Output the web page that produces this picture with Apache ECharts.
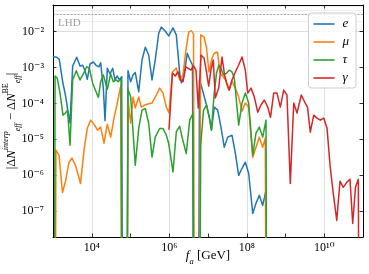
<!DOCTYPE html>
<html><head><meta charset="utf-8">
<script src="https://cdn.jsdelivr.net/npm/echarts@6/dist/echarts.min.js"></script>
<style>html,body{margin:0;padding:0;background:#fff}#c{width:369px;height:274px}</style>
</head><body><div id="c"></div>
<script>
// ---- data; 0 = exactly zero (clipped to the bottom on a log axis) ----
const seriesNames = ['e', '\u03bc', '\u03c4', '\u03b3'];
const seriesColors = ['#1f77b4', '#ff7f0e', '#2ca02c', '#d62728'];
const xLabelExponents = [4, 6, 8, 10];
const xGridValues = [1e4, 1e6, 1e8, 1e10];
const xRange = [1e3, 1e11];
const yRange = [1.9e-8, 5.5e-2];
const lhdLevel = 3.2e-2;
const lhdText = 'LHD';

const dataE = [[1.02e3,2.0e-3],[1.25e3,1.93e-3],[1.45e3,1.69e-3],[1.78e3,4.0e-4],[2.13e3,1.53e-4],[2.40e3,6.5e-5],[2.75e3,2.82e-5],[3.22e3,1.10e-3],[4.09e3,1.93e-3],[4.98e3,1.10e-3],[5.84e3,1.15e-3],[6.70e3,8.1e-4],[7.68e3,4.7e-4],[9.02e3,1.25e-3],[1.10e4,1.42e-3],[1.29e4,1.15e-3],[1.54e4,1.05e-3],[1.70e4,1.36e-3],[1.99e4,2.67e-4],[2.20e4,3.27e-5],[2.52e4,9.5e-4],[2.96e4,6.6e-4],[3.47e4,9.5e-4],[3.98e4,4.5e-4],[4.56e4,5.8e-4],[5.14e4,4.5e-4],[5.93e4,5.5e-4],[7.00e4,0],[8.61e4,8.1e-4],[1.01e5,4.0e-4],[1.16e5,6.2e-4],[1.33e5,7.2e-4],[1.63e5,2.11e-4],[1.98e5,1.62e-3],[2.41e5,3.66e-3],[2.95e5,2.23e-3],[3.59e5,4.5e-4],[4.37e5,1.69e-3],[5.35e5,9.0e-3],[6.24e5,1.33e-2],[7.64e5,1.07e-2],[9.68e5,7.6e-3],[1.25e6,1.27e-2],[1.52e6,8.1e-3],[1.86e6,7.0e-4],[2.05e6,3.7e-4],[2.40e6,5.8e-4],[2.92e6,2.5e-3],[3.43e6,1.62e-3],[3.98e6,1.17e-3],[4.90e6,0],[6.04e6,4.5e-4],[7.43e6,2.07e-4],[9.15e6,9.0e-5],[1.09e7,3.9e-5],[1.23e7,1.79e-5],[1.45e7,7.9e-5],[1.78e7,6.5e-5],[2.16e7,2.18e-5],[2.63e7,6.0e-6],[3.22e7,1.15e-5],[4.16e7,1.30e-5],[5.07e7,4.1e-6],[6.19e7,9.9e-7],[7.54e7,1.56e-6],[9.18e7,2.3e-6],[1.12e8,1.13e-6],[1.43e8,8.6e-8],[1.73e8,1.64e-7],[2.11e8,2.75e-7],[2.58e8,1.44e-7],[3.14e8,3.8e-7],[3.64e8,0]];

const dataMu = [[1.00e3,0],[1.19e3,5.0e-6],[1.43e3,3.6e-6],[1.76e3,3.3e-7],[2.10e3,6.8e-7],[2.59e3,2.3e-6],[3.09e3,3.0e-6],[3.81e3,1.89e-6],[5.13e3,5.9e-7],[6.31e3,5.0e-6],[7.68e3,2.04e-5],[9.40e3,3.42e-5],[1.14e4,2.64e-5],[1.41e4,1.79e-5],[1.70e4,2.18e-5],[2.07e4,7.8e-6],[2.52e4,2.64e-5],[3.08e4,1.15e-5],[3.75e4,3.9e-5],[4.56e4,1.02e-4],[5.58e4,3.04e-4],[7.00e4,0],[8.61e4,1.24e-4],[1.01e5,2.82e-5],[1.16e5,1.50e-4],[1.33e5,7.4e-5],[1.63e5,1.50e-4],[1.90e5,7.9e-5],[2.32e5,9.0e-5],[2.83e5,9.6e-5],[3.59e5,1.02e-4],[4.63e5,1.71e-4],[5.67e5,2.67e-4],[6.90e5,1.94e-4],[8.40e5,7.9e-5],[9.86e5,5.4e-5],[1.21e6,7.5e-4],[1.52e6,9.7e-4],[1.86e6,4.5e-4],[2.26e6,6.2e-4],[2.70e6,3.08e-3],[3.18e6,9.8e-3],[3.71e6,1.05e-2],[4.23e6,8.6e-3],[4.90e6,0],[6.49e6,8.1e-3],[7.89e6,7.1e-3],[9.15e6,3.5e-3],[1.06e7,7.5e-4],[1.27e7,1.84e-3],[1.47e7,2.54e-3],[1.76e7,2.71e-3],[2.04e7,7.0e-4],[2.39e7,5.8e-4],[2.83e7,4.5e-4],[3.42e7,2.35e-4],[4.16e7,4.2e-4],[5.07e7,2.67e-4],[6.19e7,1.50e-4],[7.54e7,6.1e-5],[9.18e7,1.02e-4],[1.12e8,7.9e-5],[1.43e8,3.16e-6],[1.73e8,6.0e-6],[2.11e8,1.15e-5],[2.58e8,6.0e-6],[3.01e8,1.07e-5],[3.64e8,0]];

const dataTau = [[1.00e3,0],[1.13e3,5.8e-4],[1.29e3,5.0e-4],[1.52e3,1.94e-4],[1.81e3,4.7e-5],[2.10e3,5.4e-5],[2.37e3,6.5e-5],[2.75e3,6.8e-6],[3.22e3,4.5e-4],[3.99e3,8.1e-4],[4.98e3,4.5e-4],[6.05e3,6.6e-4],[7.41e3,1.05e-3],[8.65e3,9.5e-4],[1.06e4,3.6e-4],[1.29e4,2.11e-4],[1.48e4,1.47e-4],[1.70e4,4.0e-4],[1.99e4,6.2e-4],[2.52e4,2.46e-4],[3.08e4,6.6e-4],[3.60e4,4.0e-4],[4.23e4,4.5e-4],[4.84e4,4.0e-4],[5.69e4,5.1e-4],[7.00e4,0],[8.61e4,2.46e-4],[1.01e5,1.53e-4],[1.33e5,1.89e-6],[1.63e5,2.0e-5],[1.98e5,6.5e-5],[2.41e5,7.2e-5],[2.95e5,2.76e-5],[3.59e5,3.2e-6],[4.37e5,1.17e-5],[5.67e5,2.0e-5],[6.90e5,2.0e-5],[8.40e5,1.30e-5],[9.68e5,7.6e-6],[1.25e6,1.23e-6],[1.52e6,1.61e-5],[1.86e6,2.32e-5],[2.13e6,1.17e-5],[2.75e6,4.0e-6],[3.37e6,3.42e-5],[4.10e6,5.3e-5],[4.90e6,0],[6.49e6,6.8e-6],[7.66e6,6.5e-5],[9.15e6,9.0e-5],[1.09e7,3.9e-5],[1.23e7,1.79e-5],[1.43e7,1.71e-4],[1.66e7,7.0e-4],[1.92e7,1.17e-3],[2.23e7,8.5e-4],[2.51e7,6.2e-4],[3.04e7,7.0e-4],[3.55e7,8.5e-4],[4.16e7,7.5e-4],[4.77e7,5.1e-4],[6.19e7,2.48e-5],[7.54e7,1.02e-4],[9.18e7,1.94e-4],[1.12e8,1.02e-4],[1.43e8,3.6e-6],[1.73e8,1.48e-5],[2.11e8,2.18e-5],[2.58e8,1.15e-5],[3.14e8,3.42e-5],[3.64e8,0]];

const dataGamma = [[9.86e5,1.91e-5],[1.21e6,7.0e-4],[1.43e6,5.8e-4],[1.68e6,7.6e-4],[1.97e6,4.5e-4],[2.26e6,4.0e-4],[2.66e6,1.05e-3],[3.10e6,9.5e-4],[3.64e6,8.5e-4],[4.23e6,1.10e-3],[4.90e6,8.5e-4],[5.62e6,7.4e-5],[6.59e6,2.23e-3],[7.89e6,1.84e-3],[9.15e6,7.5e-4],[1.04e7,3.04e-4],[1.19e7,8.5e-4],[1.37e7,1.62e-3],[1.54e7,1.41e-4],[1.89e7,2.67e-4],[2.30e7,1.96e-3],[2.67e7,6.2e-4],[3.04e7,3.7e-4],[3.55e7,2.35e-4],[4.16e7,4.5e-4],[5.07e7,7.5e-4],[6.19e7,1.17e-3],[7.54e7,1.96e-3],[9.18e7,8.5e-4],[1.06e8,1.94e-4],[1.29e8,2.67e-4],[1.57e8,1.50e-4],[1.92e8,5.7e-5],[2.33e8,9.0e-5],[2.84e8,1.24e-4],[3.48e8,7.9e-5],[4.10e8,4.1e-5],[4.96e8,1.94e-4],[6.04e8,1.94e-4],[7.35e8,7.9e-5],[8.99e8,2.35e-4],[1.09e9,1.71e-4],[1.33e9,5.9e-7],[1.63e9,1.02e-4],[1.98e9,5.4e-5],[2.56e9,1.71e-4],[3.13e9,1.09e-4],[3.70e9,7.9e-5],[4.37e9,1.58e-5],[5.35e9,4.7e-5],[6.50e9,3.9e-5],[7.91e9,3.42e-5],[9.68e9,3.9e-5],[1.18e10,2.04e-5],[1.41e10,1.89e-6],[1.71e10,3.1e-7],[2.10e10,5.5e-8],[2.55e10,6.8e-7],[3.10e10,4.6e-7],[3.80e10,6.3e-7],[4.62e10,7.7e-7],[5.42e10,4.5e-8],[6.40e10,4.6e-7],[7.57e10,7.7e-7],[9.3e10,0]];

const seriesData = [dataE, dataMu, dataTau, dataGamma];

// ---- rendering ----
const FONT = "'Liberation Serif', 'DejaVu Serif', serif";
const ZERO_FLOOR = 1e-30; // zeros drawn far below the axis and clipped, like matplotlib's log clip
const chart = echarts.init(document.getElementById('c'), null, {renderer: 'canvas'});

const SUP = {'0':'\u2070','1':'\u00b9','2':'\u00b2','3':'\u00b3','4':'\u2074','5':'\u2075','6':'\u2076','7':'\u2077','8':'\u2078','9':'\u2079','-':'\u207b'};
function powLabel(v, keep) {
  const l = Math.log10(v);
  const e = Math.round(l);
  if (Math.abs(l - e) > 1e-6 || !keep(e)) return '';
  return '10' + String(e).split('').map(c => SUP[c]).join('');
}
function nameRichStyles(base, small) {
  return {
    r: {fontFamily: FONT, fontSize: base, lineHeight: 20, color: '#000', verticalAlign: 'middle'},
    i: {fontFamily: FONT, fontSize: base, lineHeight: 20, color: '#000', fontStyle: 'italic', verticalAlign: 'middle'},
    sup: {fontFamily: FONT, fontSize: small, lineHeight: 9, color: '#000', fontStyle: 'italic', verticalAlign: 'top'},
    sub: {fontFamily: FONT, fontSize: small, lineHeight: 9, color: '#000', fontStyle: 'italic', verticalAlign: 'bottom'},
    supr: {fontFamily: FONT, fontSize: small, lineHeight: 9, color: '#000', verticalAlign: 'top'}
  };
}

const gridLines = [];
for (let k = -8; k <= -1; k++) {
  for (let m = 1; m <= 9; m++) {
    const v = m * Math.pow(10, k);
    if (v > yRange[0] && v < yRange[1]) {
      gridLines.push({yAxis: v, lineStyle: {color: m === 1 ? '#d8d8d8' : '#ebebeb', width: 0.8, type: 'solid'}});
    }
  }
}
xGridValues.forEach(v => gridLines.push({xAxis: v, lineStyle: {color: '#d8d8d8', width: 0.8, type: 'solid'}}));
gridLines.push({yAxis: lhdLevel, lineStyle: {color: '#a8a8a8', width: 1, type: [2, 1.5]},
  label: {show: true, position: 'insideStartBottom', formatter: lhdText, color: '#a0a0a0', fontFamily: FONT, fontSize: 11, distance: [5, 3]}});

const axisCommon = {
  type: 'log', logBase: 10,
  axisLine: {show: true, onZero: false, lineStyle: {color: '#000', width: 1}},
  axisTick: {show: true, inside: true, length: 3.5, lineStyle: {color: '#000', width: 0.8}},
  splitLine: {show: false},
  minorTick: {show: false}
};
const tickLabelStyle = {fontFamily: FONT, fontSize: 12, color: '#000'};

const series = [{
  name: 'grid', type: 'line', data: [], z: 0, silent: true,
  markLine: {z: 0, silent: true, symbol: ['none', 'none'], animation: false, label: {show: false}, data: gridLines}
}];
seriesNames.forEach((n, idx) => {
  series.push({
    name: n, type: 'line', z: 2 + idx,
    data: seriesData[idx].map(p => [p[0], p[1] > 0 ? p[1] : ZERO_FLOOR]),
    showSymbol: false, symbol: 'none', clip: true,
    lineStyle: {color: seriesColors[idx], width: 1.5, join: 'round', cap: 'round'},
    itemStyle: {color: seriesColors[idx]}
  });
});

chart.setOption({
  animation: false,
  backgroundColor: '#fff',
  grid: {left: 53, right: 6, top: 5, bottom: 37, containLabel: false, outerBoundsMode: 'none'},
  legend: {
    data: seriesNames, orient: 'vertical', right: 13, top: 13, z: 20,
    icon: 'rect', itemWidth: 21, itemHeight: 1.6, itemGap: 5,
    padding: [4.5, 7, 3.5, 5],
    backgroundColor: 'rgba(255,255,255,0.85)', borderColor: '#cccccc', borderWidth: 1, borderRadius: 3,
    textStyle: {fontFamily: FONT, fontStyle: 'italic', fontSize: 13, lineHeight: 13, color: '#000', padding: [0, 0, 0, 3]}
  },
  xAxis: [
    Object.assign({}, axisCommon, {
      position: 'bottom', min: xRange[0], max: xRange[1],
      axisLabel: Object.assign({margin: 5, formatter: v => powLabel(v, e => xLabelExponents.includes(e))}, tickLabelStyle),
      name: '{i|f}{sub|a}{r| [GeV]}', nameLocation: 'middle', nameGap: 9, nameMoveOverlap: false,
      nameTextStyle: {rich: nameRichStyles(13, 8.5)}
    }),
    Object.assign({}, axisCommon, {
      position: 'top', min: xRange[0], max: xRange[1], axisLabel: {show: false}
    })
  ],
  yAxis: [
    Object.assign({}, axisCommon, {
      position: 'left', min: yRange[0], max: yRange[1],
      axisLabel: Object.assign({margin: 9, formatter: v => powLabel(v, () => true)}, tickLabelStyle),
      name: '{r||\u0394}{i|N}{sup|interp}{sub|eff}{r| \u2212 \u0394}{i|N}{supr|BE}{sub|eff}{r||}',
      nameLocation: 'middle', nameGap: 31, nameRotate: 90, nameMoveOverlap: false,
      nameTextStyle: {rich: nameRichStyles(12.5, 8)}
    }),
    Object.assign({}, axisCommon, {
      position: 'right', min: yRange[0], max: yRange[1], axisLabel: {show: false}
    })
  ],
  series: series
});
</script>
</body></html>
